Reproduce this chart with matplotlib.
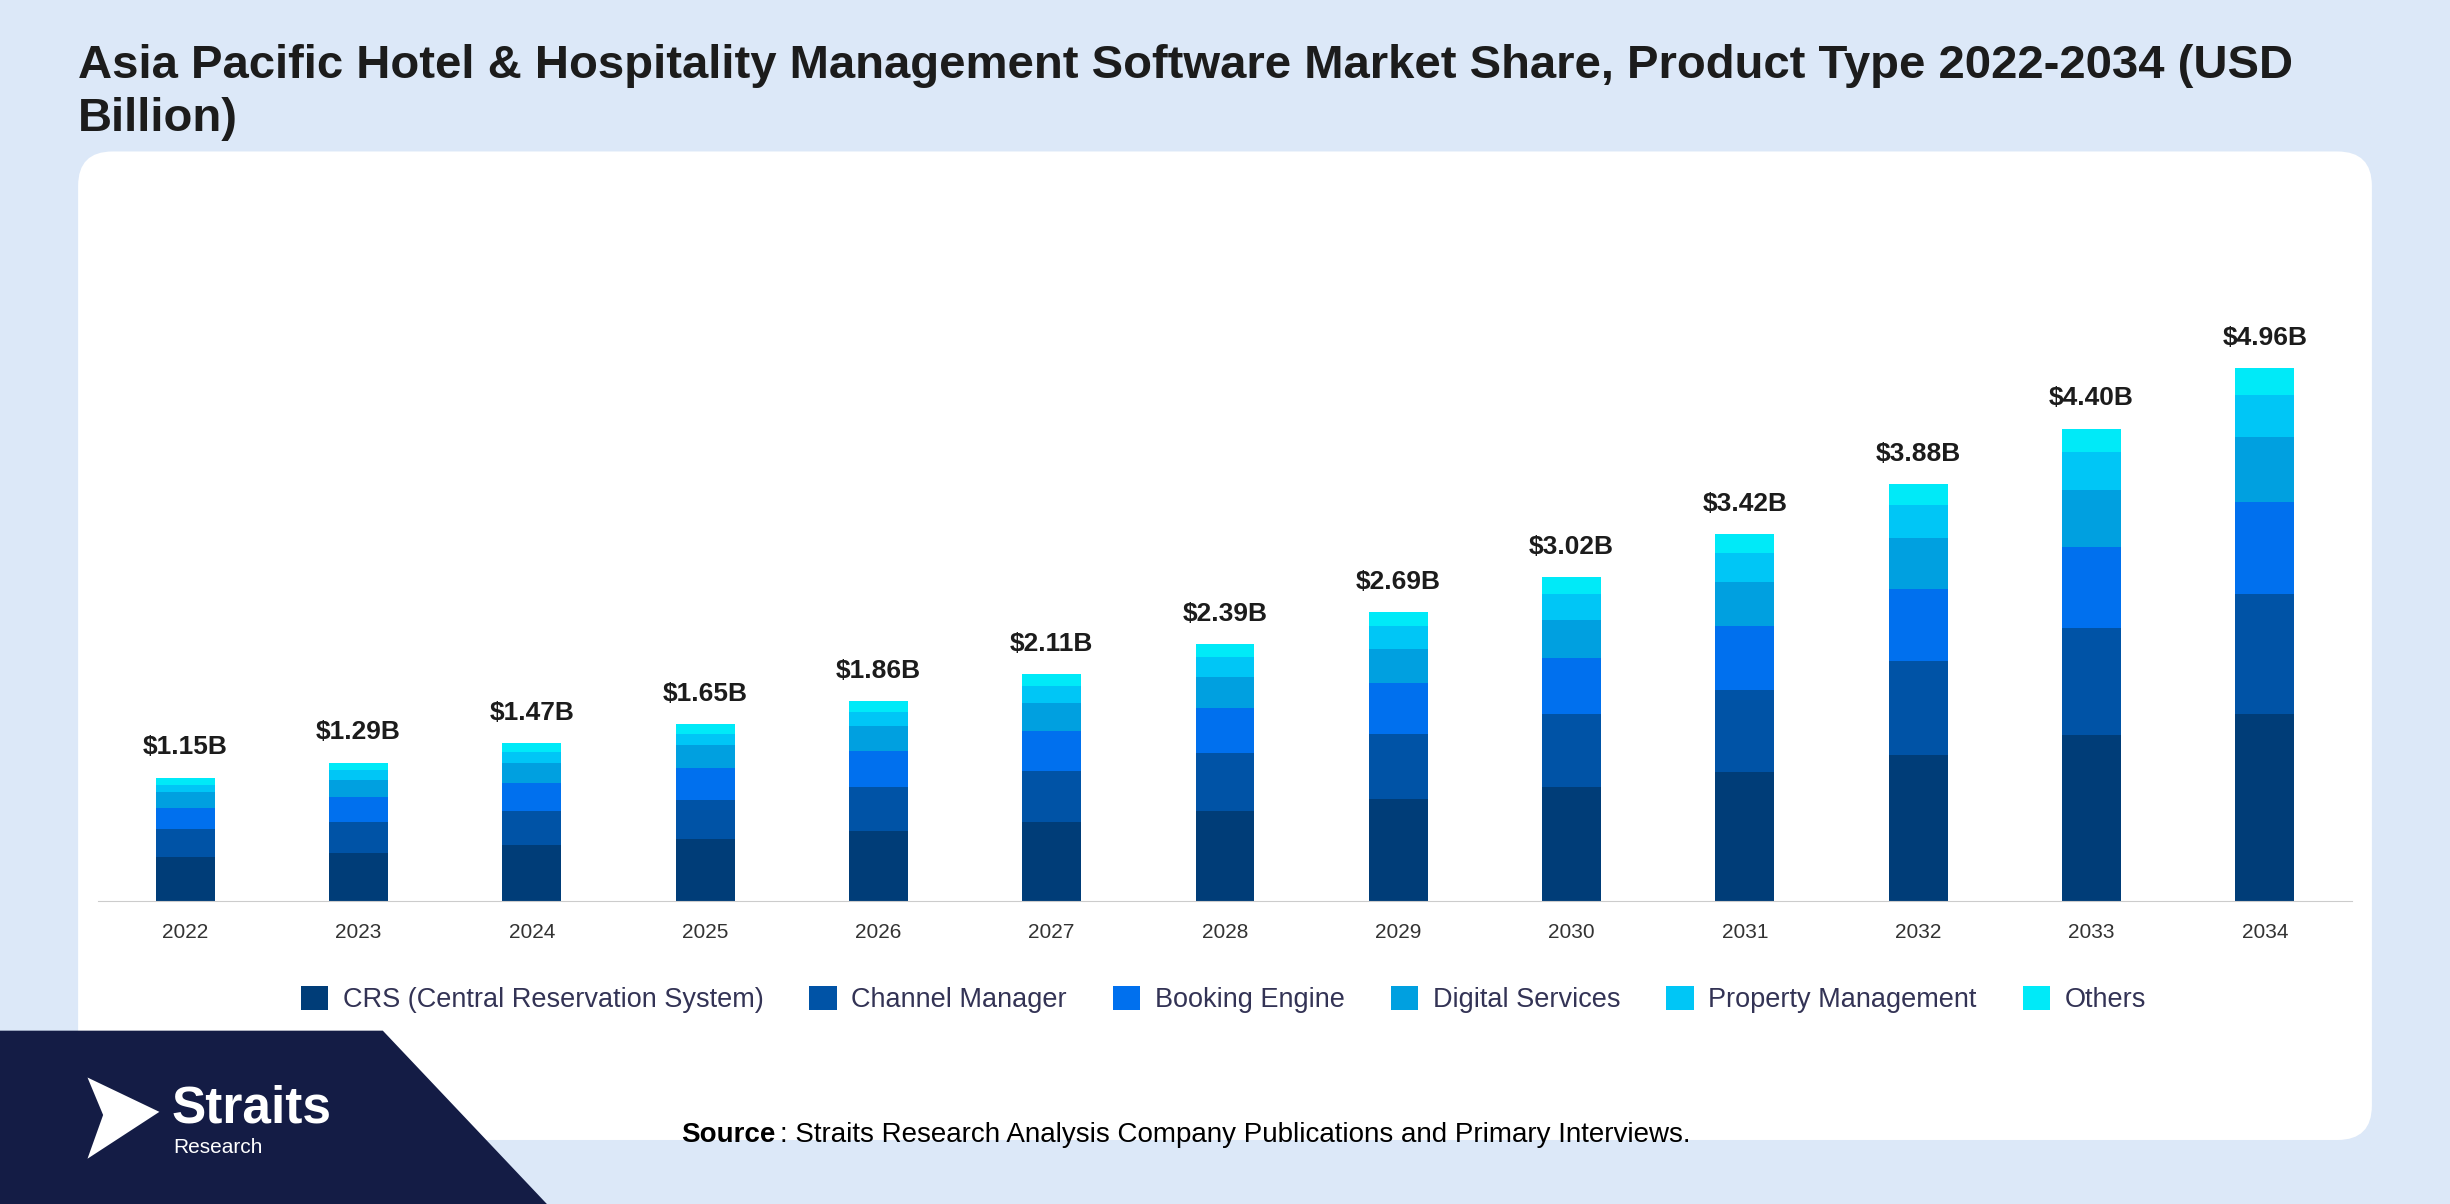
import matplotlib
matplotlib.use("Agg")
import matplotlib.pyplot as plt
from matplotlib.patches import FancyBboxPatch, Polygon
import numpy as np

plt.rcParams['font.family'] = ['Liberation Sans', 'DejaVu Sans']

years = ["2022","2023","2024","2025","2026","2027","2028","2029","2030","2031","2032","2033","2034"]
totals = ["$1.15B","$1.29B","$1.47B","$1.65B","$1.86B","$2.11B","$2.39B","$2.69B","$3.02B","$3.42B","$3.88B","$4.40B","$4.96B"]
crs     = [0.41,0.45,0.52,0.58,0.65,0.74,0.84,0.95,1.06,1.20,1.36,1.55,1.74]
channel = [0.26,0.29,0.32,0.36,0.41,0.47,0.54,0.61,0.68,0.77,0.88,0.99,1.12]
booking = [0.20,0.23,0.26,0.30,0.34,0.37,0.42,0.47,0.52,0.59,0.67,0.76,0.86]
digital = [0.15,0.16,0.19,0.21,0.23,0.26,0.29,0.32,0.36,0.41,0.47,0.53,0.60]
propm   = [0.06,0.09,0.10,0.11,0.13,0.16,0.18,0.21,0.24,0.27,0.31,0.35,0.39]
others  = [0.07,0.07,0.08,0.09,0.10,0.11,0.12,0.13,0.16,0.18,0.19,0.22,0.25]
names = ["CRS (Central Reservation System)","Channel Manager","Booking Engine","Digital Services","Property Management","Others"]
colors = ["#003d78","#0053a6","#0070ee","#00a0e0","#00c6f6","#00eaf8"]

W, H = 1568, 771
fig = plt.figure(figsize=(24.5, 12.04), dpi=100)
fig.patch.set_facecolor("#dce8f8")
bg = fig.add_axes([0,0,1,1]); bg.set_xlim(0,W); bg.set_ylim(H,0); bg.axis("off")
bg.add_patch(FancyBboxPatch((50,97),1468,633, boxstyle="round,pad=0,rounding_size=22", fc="white", ec="none"))
bg.add_patch(Polygon([(0,660),(245,660),(350,771),(0,771)], closed=True, fc="#141c45", ec="none"))
bg.add_patch(Polygon([(56,690),(102,712),(56,742),(66,714)], closed=True, fc="white", ec="none"))
bg.text(110,710,"Straits", color="white", fontsize=37, fontweight="bold", va="center")
bg.text(111,735,"Research", color="white", fontsize=15, va="center")
bg.text(50,42,"Asia Pacific Hotel & Hospitality Management Software Market Share, Product Type 2022-2034 (USD",
        fontsize=34, fontweight="bold", color="#1c1c1c", va="center")
bg.text(50,76,"Billion)", fontsize=34, fontweight="bold", color="#1c1c1c", va="center")
bg.text(436,727,"Source", fontsize=20, fontweight="bold", va="center")
bg.text(499,727,": Straits Research Analysis Company Publications and Primary Interviews.", fontsize=20, va="center")

ax = fig.add_axes([63/W, 1-577/H, 1442/W, 427/H])
x = np.arange(len(years))
series = [crs, channel, booking, digital, propm, others]
bottom = np.zeros(len(years))
for s, c, n in zip(series, colors, names):
    ax.bar(x, s, 0.34, bottom=bottom, color=c, label=n)
    bottom += np.array(s)
for xi, t, lab in zip(x, bottom, totals):
    ax.text(xi, t+0.17, lab, ha="center", va="bottom", fontsize=19, fontweight="bold", color="#1c1c1c")
ax.set_xlim(-0.5, 12.5); ax.set_ylim(0, 6.21)
ax.set_xticks(x); ax.set_xticklabels(years, fontsize=15, color="#333333")
ax.tick_params(axis="x", length=0, pad=16)
ax.set_yticks([])
for sp in ["top","right","left"]:
    ax.spines[sp].set_visible(False)
ax.spines["bottom"].set_color("#cccccc")
ax.patch.set_alpha(0)
leg = fig.legend(loc="center", bbox_to_anchor=(783/W, 1-640/H), ncol=6, frameon=False,
                 fontsize=19.5, handlelength=1.0, handleheight=1.0, columnspacing=1.7, handletextpad=0.55)
for t in leg.get_texts(): t.set_color("#333355")
fig.savefig("out.png", dpi=100, facecolor=fig.get_facecolor())
